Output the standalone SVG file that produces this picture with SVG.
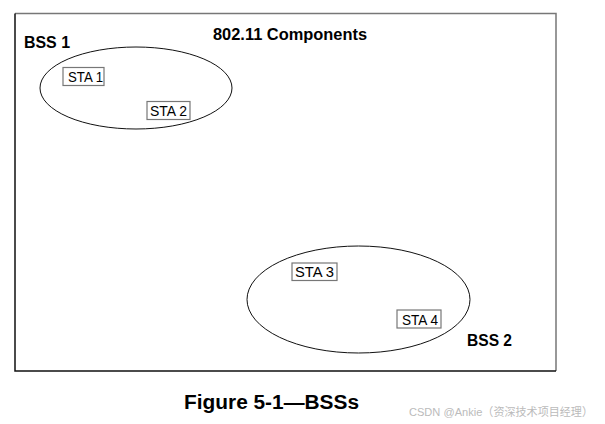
<svg xmlns="http://www.w3.org/2000/svg" width="605" height="424" viewBox="0 0 605 424">
<style>
.frame-a{stroke:#777;stroke-width:1.5;fill:none}
.frame-b{stroke:#111;stroke-width:1.5;fill:none}
.bss{fill:none;stroke:#111;stroke-width:1}
.sta rect{fill:#fff;stroke:#777;stroke-width:1.2}
.sta text{font-family:"Liberation Sans",Arial,sans-serif;font-size:15px;fill:#000}
.lbl{font-family:"Liberation Sans",Arial,sans-serif;font-weight:bold;font-size:17px;fill:#000}
.cap{font-family:"Liberation Sans",Arial,sans-serif;font-weight:bold;font-size:20px;fill:#000}
.wm{font-family:"Liberation Sans","Noto Sans CJK SC",sans-serif;font-size:11.5px;fill:#bbb}
</style>
<rect width="605" height="424" fill="#fff"/>
<g id="frame">
<path class="frame-a" d="M15,13.5 H556 V371"/>
<path class="frame-b" d="M15,13.5 V371 H556"/>
</g>
<text class="lbl" x="213" y="40" textLength="154" lengthAdjust="spacingAndGlyphs">802.11 Components</text>
<g id="bss1">
<ellipse class="bss" cx="136" cy="88" rx="96" ry="41"/>
<text class="lbl" x="24" y="48" textLength="46" lengthAdjust="spacingAndGlyphs">BSS 1</text>
</g>
<g id="sta1" class="sta"><rect x="63" y="67.5" width="41" height="18"/><text x="68" y="82" textLength="35" lengthAdjust="spacingAndGlyphs">STA 1</text></g>
<g id="sta2" class="sta"><rect x="147" y="101.5" width="43" height="18"/><text x="150" y="116" textLength="37" lengthAdjust="spacingAndGlyphs">STA 2</text></g>
<g id="bss2">
<ellipse class="bss" cx="358.5" cy="299.5" rx="111.5" ry="53.5"/>
<text class="lbl" x="467" y="346" textLength="45" lengthAdjust="spacingAndGlyphs">BSS 2</text>
</g>
<g id="sta3" class="sta"><rect x="292" y="263" width="45" height="17.5"/><text x="295" y="277" textLength="39" lengthAdjust="spacingAndGlyphs">STA 3</text></g>
<g id="sta4" class="sta"><rect x="397" y="310" width="44" height="18"/><text x="402" y="324.5" textLength="36" lengthAdjust="spacingAndGlyphs">STA 4</text></g>
<g id="connectors"/>
<text class="cap" x="184" y="409" textLength="175" lengthAdjust="spacingAndGlyphs">Figure 5-1—BSSs</text>
<text class="wm" x="409" y="416" textLength="184" lengthAdjust="spacingAndGlyphs">CSDN @Ankie（资深技术项目经理）</text>
</svg>
